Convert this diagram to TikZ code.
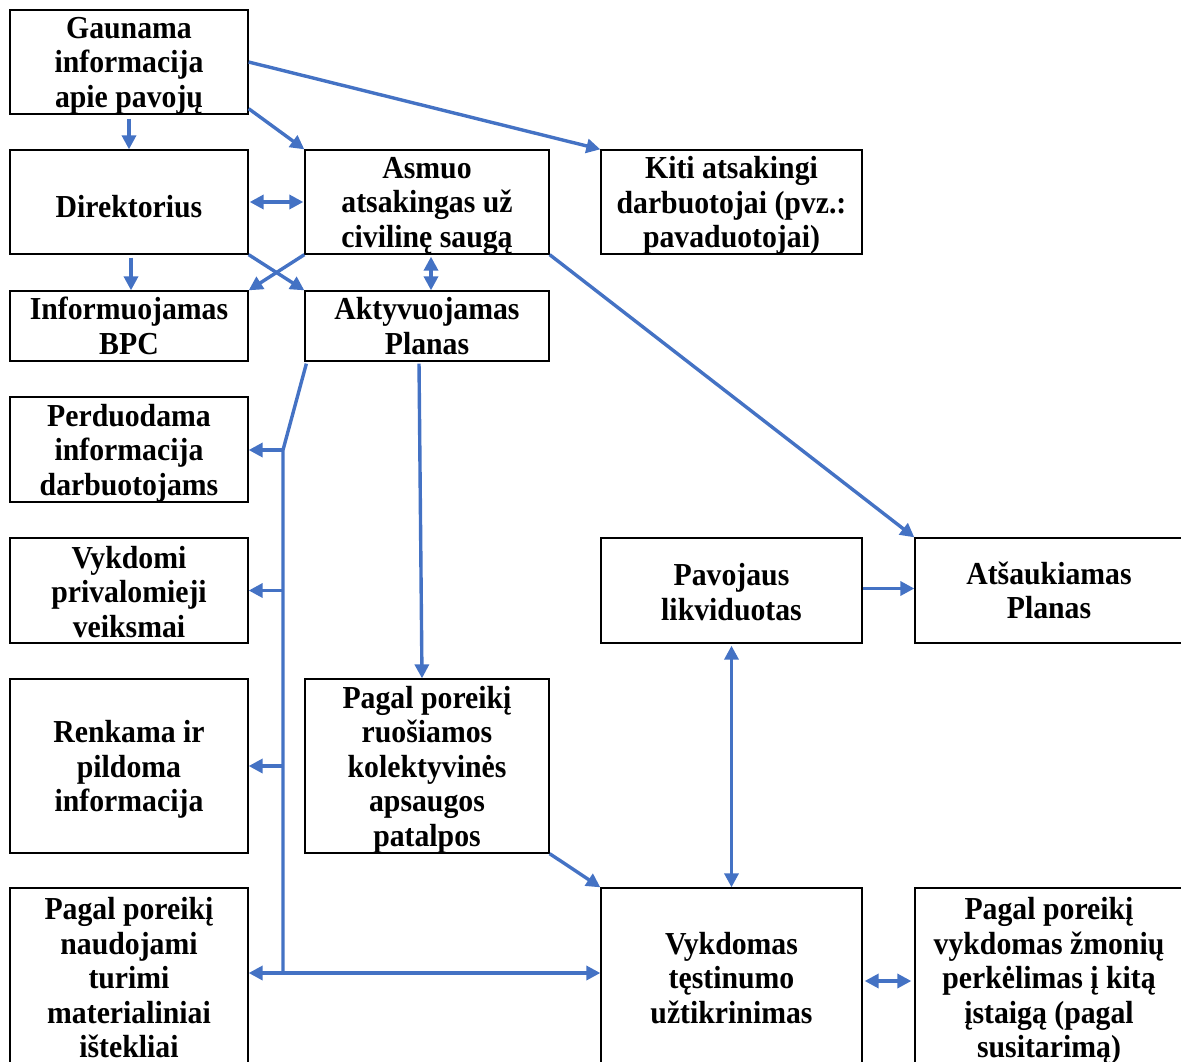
\documentclass[tikz,border=0pt]{standalone}
\usepackage{fontspec}
\setmainfont[FakeStretch=0.93]{Liberation Serif}
\usepackage{xcolor}
\usepackage{tikz}
\usetikzlibrary{calc,arrows.meta}
\definecolor{wordblue}{HTML}{4472C4}
% pushes the text of a box a little down
\newcommand{\lowtext}[1][31pt]{\rule{0pt}{#1}}

\tikzset{
  box/.style={draw, line width=1.3pt, align=center, inner sep=0pt,
              font=\fontsize{32}{34.5}\selectfont\bfseries},
  low/.style={text depth=#1},
  low/.default=0pt,
  arr/.style={draw=wordblue, line width=3.4pt,
              -{Triangle[length=14pt,width=14pt]}},
  dbl/.style={arr, {Triangle[length=14pt,width=14pt]}-{Triangle[length=14pt,width=14pt]}},
  trunk/.style={draw=wordblue, line width=3.4pt}
}

\begin{document}
\begin{tikzpicture}[x=1pt,y=-1pt]
            \useasboundingbox (0,0) rectangle (1181,1061);
            \clip (0,0) rectangle (1181,1061);
            % boxes
            \node[box, low=-1pt, minimum width=238, minimum height=104] (gaunama) at (129,62) {Gaunama\\informacija\\apie pavojų};
            \node[box, minimum width=238, minimum height=104] (direktorius) at (129,202) {\lowtext[32pt]Direktorius};
            \node[box, low=-5pt, minimum width=244, minimum height=104] (asmuo) at (427,202) {Asmuo\\atsakingas už\\civilinę saugą};
            \node[box, low=-5pt, minimum width=261, minimum height=104] (kiti) at (731.5,202) {Kiti atsakingi\\darbuotojai (pvz.:\\pavaduotojai)};
            \node[box, minimum width=238, minimum height=70] (bpc) at (129,326) {Informuojamas\\BPC};
            \node[box, minimum width=244, minimum height=70] (aktyvuojamas) at (427,326) {Aktyvuojamas\\Planas};
            \node[box, low=-1pt, minimum width=238, minimum height=105] (perduodama) at (129,449.5) {Perduodama\\informacija\\darbuotojams};
            \node[box, minimum width=238, minimum height=105] (vykdomi) at (129,590.5) {\lowtext[25pt]Vykdomi\\privalomieji\\veiksmai};
            \node[box, low=-2pt, minimum width=238, minimum height=174] (renkama) at (129,766) {Renkama ir\\pildoma\\informacija};
            \node[box, low=-1pt, minimum width=244, minimum height=174] (ruosiamos) at (427,766) {Pagal poreikį\\ruošiamos\\kolektyvinės\\apsaugos\\patalpos};
            \node[box, minimum width=261, minimum height=105] (pavojaus) at (731.5,590.5) {\lowtext[25pt]Pavojaus\\likviduotas};
            \node[box, minimum width=268, minimum height=105] (atsaukiamas) at (1049,590.5) {Atšaukiamas\\Planas};
            \node[box, minimum width=238, minimum height=180] (naudojami) at (129,978) {Pagal poreikį\\naudojami\\turimi\\materialiniai\\ištekliai};
            \node[box, minimum width=261, minimum height=180] (testinumas) at (731.5,978) {Vykdomas\\tęstinumo\\užtikrinimas};
            \node[box, low=1pt, minimum width=268, minimum height=180] (perkelimas) at (1049,978) {Pagal poreikį\\vykdomas žmonių\\perkėlimas į kitą\\įstaigą (pagal\\susitarimą)};

            % top part
            \draw[arr, shorten <=4pt] (gaunama.south) -- (direktorius.north);
            \draw[arr] ([yshift=6]gaunama.south east) -- (asmuo.north west);
            \draw[arr] (gaunama.east) -- (kiti.north west);
            \draw[dbl, shorten <=1pt, shorten >=1pt] (direktorius.east) -- (asmuo.west);
            \draw[arr, shorten <=3pt] ([xshift=2]direktorius.south) -- ([xshift=2]bpc.north);
            \draw[arr] (direktorius.south east) -- (aktyvuojamas.north west);
            \draw[arr] (asmuo.south west) -- (bpc.north east);
            \draw[dbl, shorten <=2pt] ([xshift=4]asmuo.south) -- ([xshift=4]aktyvuojamas.north);
            \draw[arr] (asmuo.south east) -- (atsaukiamas.north west);

            % left trunk
            \coordinate (kink) at (283,450);
            \coordinate (bus) at (283,973);
            \draw[trunk] ([xshift=2,yshift=-2]aktyvuojamas.south west) -- (kink) -- (bus);
            \draw[arr] (kink) -- (kink -| perduodama.east);
            \draw[arr] (kink |- vykdomi.east) -- (vykdomi.east);
            \draw[arr] (kink |- renkama.east) -- (renkama.east);
            \draw[arr] (bus) -- (bus -| naudojami.east);
            \draw[arr] (bus) -- (bus -| testinumas.west);
            \draw[arr, shorten <=2pt] ([xshift=-8]aktyvuojamas.south) -- ([xshift=-5]ruosiamos.north);
            \draw[arr] (ruosiamos.south east) -- (testinumas.north west);

            % right part
            \draw[dbl, shorten <=2pt] (pavojaus.south) -- (testinumas.north);
            \draw[arr] ([yshift=2]pavojaus.east) -- ([yshift=2]atsaukiamas.west);
            \draw[dbl, shorten <=2pt, shorten >=3pt] ([yshift=-3]testinumas.east) -- ([yshift=-3]perkelimas.west);
        \end{tikzpicture}
\end{document}
